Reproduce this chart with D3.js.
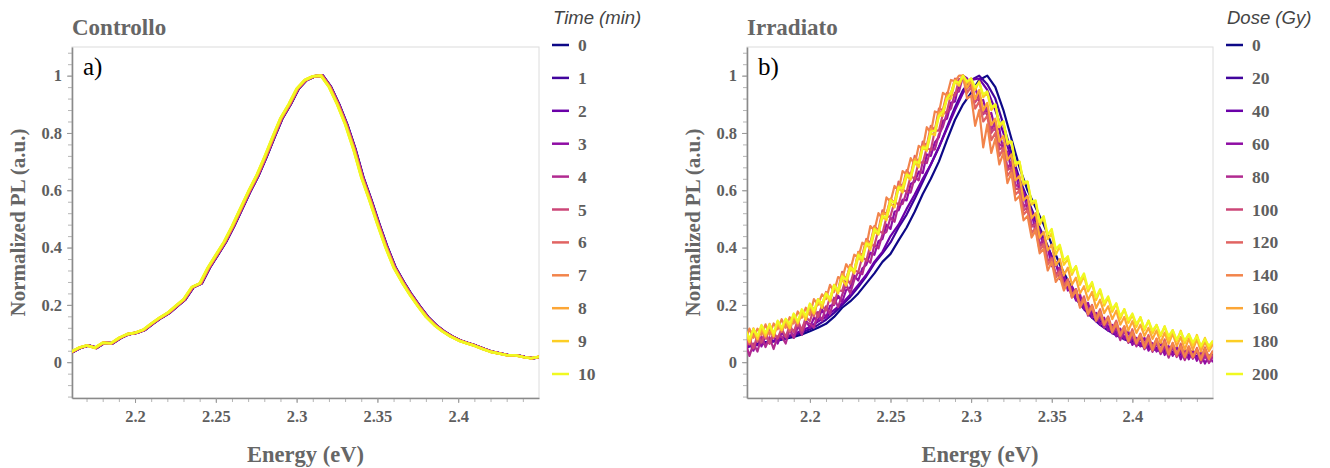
<!DOCTYPE html>
<html><head><meta charset="utf-8">
<script src="https://cdn.jsdelivr.net/npm/d3@7"></script>
<style>
html,body{margin:0;padding:0;background:#fff;}
svg{display:block;}
</style></head>
<body>
<svg id="chart" width="1330" height="468"></svg>
<script>
// ---------- DATA ----------
const energyStart = 2.160;          // eV, first sample of every spectrum
const coarseStep = 0.005;           // eV, grid of smooth spectra (59 points)
const fineStep = 0.0025;            // eV, grid of noisy spectra (117 points)
const timeLabels = ["0","1","2","3","4","5","6","7","8","9","10"];
const doseLabels = ["0","20","40","60","80","100","120","140","160","180","200"];
const xTicks = [2.2, 2.25, 2.3, 2.35, 2.4];
const yTicks = [0, 0.2, 0.4, 0.6, 0.8, 1];

// Controllo: all spectra overlap; one measured profile + small per-curve energy offsets
const controlProfile = [.035,.05,.058,.05,.068,.066,.085,.098,.103,.113,.135,.155,.172,.196,.22,.262,.275,.33,.375,.42,.475,.535,.595,.65,.715,.785,.852,.9,.955,.985,.998,1.0,.96,.9,.83,.745,.645,.565,.48,.4,.33,.28,.235,.195,.158,.13,.108,.09,.076,.066,.057,.046,.036,.03,.024,.024,.018,.014,.019];
const controlOffset = [0.0013,0.0012,0.0011,0.001,0.0009,0.0008,0.0006,0.0005,0.0003,0.0001,0];

// Irradiato (coarse grid)
const dose0   = [.06,.062,.066,.07,.075,.082,.088,.097,.108,.12,.134,.158,.19,.212,.24,.275,.31,.35,.378,.425,.47,.525,.587,.64,.7,.775,.846,.9,.94,.985,1.0,.96,.88,.78,.68,.6,.54,.48,.41,.34,.285,.24,.2,.17,.145,.12,.1,.085,.072,.062,.055,.045,.04,.035,.03,.025,.022,.02,.025];
const dose20  = [.055,.06,.068,.072,.078,.085,.093,.104,.115,.13,.148,.172,.2,.228,.262,.3,.345,.38,.418,.47,.515,.57,.63,.69,.75,.82,.89,.95,.985,1.0,.97,.92,.83,.73,.64,.57,.5,.44,.37,.31,.26,.22,.185,.155,.13,.11,.094,.08,.068,.058,.05,.042,.036,.03,.026,.022,.02,.018,.022];
const dose40  = [.05,.058,.062,.07,.076,.09,.096,.112,.122,.142,.158,.182,.205,.235,.27,.305,.35,.385,.44,.48,.535,.585,.64,.69,.75,.815,.88,.94,.985,.99,.95,.88,.8,.71,.63,.56,.49,.43,.37,.315,.27,.235,.2,.17,.15,.125,.108,.09,.078,.066,.058,.05,.042,.034,.03,.024,.02,.016,.02];
// Irradiato (fine grid, noisy)
const dose60  = [.04,.072,.04,.082,.055,.093,.067,.091,.065,.105, .085,.115,.085,.122,.115,.147,.12,.155,.145,.185, .155,.197,.2,.232,.21,.252,.26,.302,.285,.327, .34,.382,.375,.422,.43,.48,.465,.525,.53,.567, .565,.622,.63,.665,.66,.725,.72,.767,.785,.842, .85,.905,.91,.975,1.0,.99,.96,.96,.91,.915, .86,.87,.81,.815,.73,.735,.67,.67,.59,.595, .525,.525,.45,.455,.4,.4,.335,.35,.29,.305, .25,.267,.215,.237,.185,.207,.155,.172,.13,.155, .11,.13,.09,.117,.08,.107,.06,.085,.055,.085, .04,.066,.037,.068,.025,.056,.022,.053,.01,.042, .01,.042,.005,.032,-.005,.022,0];
const dose80  = [.07,.022,.065,.037,.09,.053,.087,.046,.09,.09, .065,.115,.085,.132,.095,.137,.135,.12,.175,.145, .195,.167,.225,.192,.235,.272,.24,.287,.315,.307, .36,.347,.41,.397,.445,.455,.505,.49,.55,.552, .595,.592,.645,.635,.7,.695,.745,.742,.795,.822, .87,.885,.94,.945,1.0,.96,.97,.92,.94,.865, .89,.81,.84,.755,.765,.675,.7,.615,.62,.54, .56,.475,.485,.41,.43,.355,.36,.3,.33,.27, .28,.227,.255,.197,.21,.162,.19,.142,.16,.12, .145,.1,.12,.077,.11,.067,.09,.055,.085,.045, .07,.036,.067,.028,.055,.016,.052,.018,.04,.007, .04,.012,.04,-.003,.025,-.003,.02];
const dose100 = [.048,.085,.048,.095,.068,.105,.064,.103,.083,.118, .088,.128,.105,.147,.11,.158,.143,.188,.158,.198, .18,.228,.203,.252,.248,.295,.273,.321,.315,.367, .355,.408,.408,.461,.45,.505,.51,.56,.55,.602, .595,.65,.64,.7,.695,.748,.74,.809,.808,.866, .875,.935,.93,.988,.99,.955,.97,.908,.925,.868, .87,.8,.82,.743,.75,.67,.68,.605,.605,.53, .54,.473,.48,.405,.415,.353,.365,.305,.32,.273, .28,.234,.253,.201,.22,.172,.19,.149,.168,.133, .153,.108,.133,.095,.113,.075,.103,.068,.088,.053, .083,.049,.07,.036,.068,.034,.055,.021,.053,.02, .043,.02,.043,.01,.034,.012,.025];
const dose120 = [.105,.062,.105,.072,.12,.082,.12,.085,.14,.105, .14,.107,.16,.127,.18,.15,.195,.16,.22,.192, .245,.215,.265,.252,.315,.287,.34,.315,.385,.372, .43,.415,.475,.46,.53,.515,.57,.555,.63,.612, .67,.652,.72,.695,.77,.755,.825,.81,.885,.88, .94,.935,.99,.97,1.0,.94,.96,.885,.91,.84, .86,.775,.8,.72,.745,.65,.67,.585,.6,.515, .53,.45,.47,.39,.41,.34,.36,.295,.315,.265, .29,.235,.255,.2,.23,.177,.2,.155,.185,.135, .16,.115,.145,.097,.125,.077,.115,.07,.1,.06, .095,.051,.082,.038,.08,.036,.067,.023,.065,.022, .055,.017,.05,.013,.052,.016,.04];
const dose140 = [.075,.117,.085,.117,.095,.132,.095,.135,.115,.15, .12,.157,.135,.177,.155,.19,.165,.22,.2,.237, .22,.27,.245,.297,.29,.342,.32,.375,.365,.417, .405,.475,.46,.52,.5,.575,.56,.615,.6,.667, .655,.712,.69,.755,.745,.82,.8,.875,.87,.94, .93,.985,.98,1.0,1.0,.92,.93,.825,.88,.75, .83,.73,.78,.69,.73,.625,.66,.565,.58,.495, .51,.435,.46,.38,.395,.32,.35,.28,.3,.25, .28,.225,.25,.19,.22,.167,.195,.145,.175,.13, .155,.105,.135,.092,.125,.072,.105,.065,.095,.05, .085,.041,.082,.038,.07,.026,.067,.028,.055,.017, .055,.017,.045,.008,.047,.011,.04];
const dose160 = [.108,.07,.118,.08,.118,.09,.134,.093,.133,.113, .149,.12,.168,.135,.178,.156,.2,.17,.215,.201, .243,.221,.27,.246,.308,.29,.338,.318,.383,.37, .423,.411,.47,.455,.52,.515,.57,.555,.615,.612, .66,.647,.71,.695,.755,.754,.813,.806,.87,.878, .93,.938,.985,.968,1.0,.958,.985,.918,.95,.878, .905,.828,.85,.77,.79,.705,.725,.635,.65,.565, .58,.503,.52,.435,.455,.39,.41,.338,.36,.303, .33,.27,.295,.24,.265,.217,.245,.189,.218,.171, .195,.15,.18,.131,.158,.11,.143,.102,.131,.091, .12,.081,.111,.067,.103,.064,.1,.056,.088,.044, .082,.043,.08,.038,.071,.039,.063];
const dose180 = [.105,.072,.115,.082,.125,.093,.127,.091,.14,.111, .147,.118,.165,.137,.175,.147,.2,.17,.215,.19, .235,.212,.265,.24,.29,.267,.33,.31,.365,.352, .415,.392,.455,.445,.51,.495,.555,.54,.61,.592, .65,.637,.7,.68,.75,.737,.8,.792,.86,.86, .92,.92,.98,.965,1.0,.975,.99,.95,.98,.925, .94,.88,.9,.82,.84,.76,.77,.685,.7,.62, .63,.55,.56,.48,.505,.43,.45,.375,.405,.34, .36,.305,.335,.27,.3,.247,.275,.217,.25,.197, .225,.175,.205,.15,.185,.137,.165,.123,.157,.111, .145,.1,.13,.09,.125,.076,.112,.073,.11,.066, .098,.059,.095,.052,.085,.047,.075];
const dose200 = [.115,.082,.115,.092,.13,.103,.132,.101,.145,.121, .152,.133,.17,.142,.185,.162,.205,.18,.22,.205, .24,.222,.27,.25,.3,.287,.33,.32,.375,.362, .415,.407,.465,.45,.51,.505,.565,.555,.61,.607, .655,.647,.7,.695,.75,.747,.805,.807,.86,.875, .92,.94,.98,.975,1.0,.98,.99,.96,.975,.935, .945,.89,.9,.83,.84,.77,.77,.695,.7,.63, .63,.56,.565,.49,.51,.445,.465,.395,.41,.355, .37,.315,.335,.285,.31,.257,.28,.227,.255,.207, .23,.185,.205,.16,.185,.147,.17,.133,.157,.116, .145,.11,.13,.095,.125,.091,.112,.078,.105,.076, .098,.069,.09,.057,.08,.057,.075];
const doseSeries = [dose0,dose20,dose40,dose60,dose80,dose100,dose120,dose140,dose160,dose180,dose200];
const doseStep = [coarseStep,coarseStep,coarseStep,fineStep,fineStep,fineStep,fineStep,fineStep,fineStep,fineStep,fineStep];

// ---------- DRAW ----------
const svg = d3.select("#chart");
const serif = "'Liberation Serif','Times New Roman',serif";
const sans = "'Liberation Sans',Arial,Helvetica,sans-serif";
const color = i => d3.interpolatePlasma(i / 10);

const y = d3.scaleLinear().domain([-0.125, 1.1]).range([398, 47]);

function panel(x0, x1, id, title, tag, legendTitle, labels, seriesList, lw) {
  const x = d3.scaleLinear().domain([2.161, 2.45]).range([x0, x1]);
  const g = svg.append("g");
  g.append("rect").attr("x", x0).attr("y", 47).attr("width", x1 - x0).attr("height", 351)
    .attr("fill", "none").attr("stroke", "#dcdcdc").attr("stroke-width", 1);
  svg.append("clipPath").attr("id", id).append("rect")
    .attr("x", x0).attr("y", 47).attr("width", x1 - x0).attr("height", 351);

  const minorX = d3.range(217, 245).map(v => v / 100);
  const minorY = d3.range(-3, 28).map(v => v * 0.04);
  g.append("g").attr("transform", `translate(0,398)`)
    .call(d3.axisBottom(x).tickValues(minorX).tickSize(4).tickFormat(""))
    .call(s => s.select(".domain").remove())
    .call(s => s.selectAll("line").attr("stroke", "#b5b5b5"));
  g.append("g").attr("transform", `translate(${x0},0)`)
    .call(d3.axisLeft(y).tickValues(minorY).tickSize(4).tickFormat(""))
    .call(s => s.select(".domain").remove())
    .call(s => s.selectAll("line").attr("stroke", "#b5b5b5"));

  const ax = g.append("g").attr("transform", `translate(0,398)`)
    .call(d3.axisBottom(x).tickValues(xTicks).tickSize(5).tickPadding(7).tickSizeOuter(0).tickFormat(d => String(d)));
  const ay = g.append("g").attr("transform", `translate(${x0},0)`)
    .call(d3.axisLeft(y).tickValues(yTicks).tickSize(5).tickPadding(5).tickSizeOuter(0).tickFormat(d => String(d)));
  [ax, ay].forEach(a => {
    a.select(".domain").attr("stroke", "#8a8a8a").attr("stroke-width", 1.6);
    a.selectAll(".tick line").attr("stroke", "#999");
    a.selectAll("text").attr("font-family", serif).attr("font-weight", "bold")
      .attr("font-size", 16.5).attr("fill", "#5e5e5e");
  });

  const line = d3.line().x(d => x(d[0])).y(d => y(d[1]));
  const lg = g.append("g").attr("clip-path", `url(#${id})`);
  seriesList.forEach((pts, i) => {
    lg.append("path").datum(pts).attr("d", line).attr("fill", "none")
      .attr("stroke", color(i)).attr("stroke-width", lw).attr("stroke-linejoin", "round");
  });

  g.append("text").attr("x", x0).attr("y", 35).text(title)
    .attr("font-family", serif).attr("font-weight", "bold").attr("font-size", 23).attr("fill", "#666");
  g.append("text").attr("x", x0 + 11).attr("y", 75).text(tag)
    .attr("font-family", serif).attr("font-size", 25).attr("fill", "#000");
  g.append("text").attr("x", (x0 + x1) / 2).attr("y", 462).attr("text-anchor", "middle").text("Energy (eV)")
    .attr("font-family", serif).attr("font-weight", "bold").attr("font-size", 22.5).attr("fill", "#666");
  g.append("text").attr("transform", `translate(${x0 - 47},222.5) rotate(-90)`).attr("text-anchor", "middle")
    .text("Normalized PL (a.u.)")
    .attr("font-family", serif).attr("font-weight", "bold").attr("font-size", 21).attr("fill", "#666");

  const lx = x1 + 13;
  g.append("text").attr("x", lx + 1).attr("y", 24).text(legendTitle)
    .attr("font-family", sans).attr("font-style", "italic").attr("font-size", 18.5).attr("fill", "#444");
  labels.forEach((lab, i) => {
    const ly = 45 + i * 32.9;
    g.append("line").attr("x1", lx).attr("x2", lx + 17).attr("y1", ly).attr("y2", ly)
      .attr("stroke", color(i)).attr("stroke-width", 2.5);
    g.append("text").attr("x", lx + 26).attr("y", ly + 6).text(lab)
      .attr("font-family", serif).attr("font-weight", "bold").attr("font-size", 17.5).attr("fill", "#5e5e5e");
  });
}

const controlSeries = controlOffset.map(off => controlProfile.map((v, i) => [energyStart + coarseStep * i + off, v]));
const irrSeries = doseSeries.map((arr, k) => arr.map((v, i) => [energyStart + doseStep[k] * i, v]));

panel(72, 539, "clipL", "Controllo", "a)", "Time (min)", timeLabels, controlSeries, 2.6);
panel(747, 1213, "clipR", "Irradiato", "b)", "Dose (Gy)", doseLabels, irrSeries, 2.2);
</script>
</body></html>
